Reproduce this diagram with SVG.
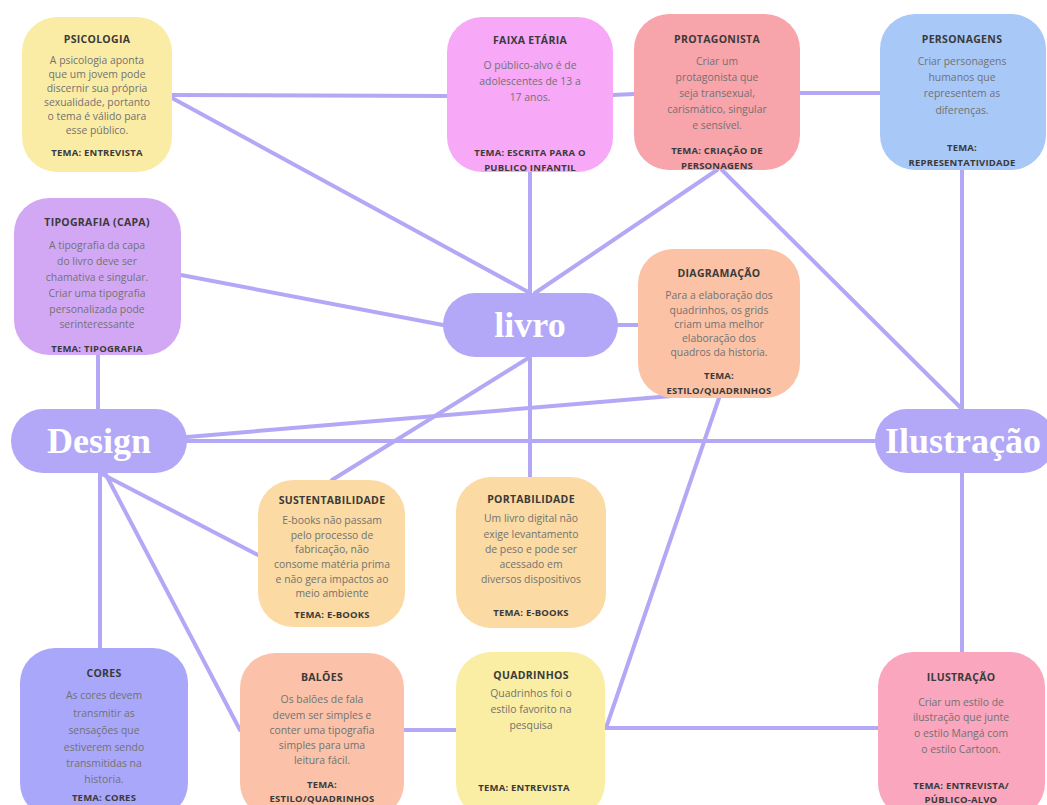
<svg xmlns="http://www.w3.org/2000/svg" width="1047" height="805" viewBox="0 0 1047 805">
<style>
.bg{fill:#ffffff}
.e line{stroke:#b3a8f6;stroke-width:4;stroke-linecap:round}
.t{font-family:"Open Sans","Liberation Sans",sans-serif;font-size:10.5px;font-weight:700;fill:#3a3a3a;text-anchor:middle;letter-spacing:0.3px}
.b{font-family:"Open Sans","Liberation Sans",sans-serif;font-size:10.4px;fill:#727272;text-anchor:middle}
.m{font-family:"Open Sans","Liberation Sans",sans-serif;font-size:9.5px;font-weight:700;fill:#3a3a3a;text-anchor:middle;letter-spacing:0.2px}
.hub{fill:#b2a8f7}
.h{font-family:"Liberation Serif","DejaVu Serif",serif;font-size:36px;font-weight:700;fill:#ffffff;text-anchor:middle}
</style>
<rect class="bg" x="0" y="0" width="1047" height="805"/>
<g id="connectors" class="e">
<line x1="172" y1="95" x2="447" y2="96"/>
<line x1="172" y1="98" x2="530" y2="293"/>
<line x1="530" y1="172" x2="530" y2="293"/>
<line x1="613" y1="95" x2="634" y2="94"/>
<line x1="800" y1="93" x2="880" y2="93"/>
<line x1="717" y1="170" x2="535" y2="293"/>
<line x1="722" y1="170" x2="962" y2="409"/>
<line x1="962" y1="170" x2="962" y2="409"/>
<line x1="181" y1="275" x2="443" y2="325"/>
<line x1="98" y1="355" x2="98" y2="409"/>
<line x1="618" y1="325" x2="638" y2="325"/>
<line x1="187" y1="441" x2="875" y2="441"/>
<line x1="187" y1="437" x2="719" y2="392"/>
<line x1="719" y1="398" x2="606" y2="728"/>
<line x1="606" y1="728" x2="878" y2="728"/>
<line x1="530" y1="357" x2="332" y2="480"/>
<line x1="530" y1="357" x2="530" y2="477"/>
<line x1="100" y1="473" x2="100" y2="648"/>
<line x1="100" y1="473" x2="258" y2="555"/>
<line x1="105" y1="473" x2="240" y2="730"/>
<line x1="404" y1="730" x2="456" y2="730"/>
<line x1="962" y1="473" x2="962" y2="652"/>
</g>
<g id="psicologia">
<rect x="22" y="17" width="150" height="155" rx="35" fill="#faeca5"/>
<text class="t" x="97" y="43">PSICOLOGIA</text>
<text class="b" x="97" y="64">A psicologia aponta</text>
<text class="b" x="97" y="78">que um jovem pode</text>
<text class="b" x="97" y="92">discernir sua própria</text>
<text class="b" x="97" y="106">sexualidade, portanto</text>
<text class="b" x="97" y="120">o tema é válido para</text>
<text class="b" x="97" y="134">esse público.</text>
<text class="m" x="97" y="156">TEMA: ENTREVISTA</text>
</g>
<g id="faixa-etaria">
<rect x="447" y="17" width="166" height="155" rx="35" fill="#f7a8f7"/>
<text class="t" x="530" y="44">FAIXA ETÁRIA</text>
<text class="b" x="530" y="69">O público-alvo é de</text>
<text class="b" x="530" y="85">adolescentes de 13 a</text>
<text class="b" x="530" y="101">17 anos.</text>
<text class="m" x="530" y="156">TEMA: ESCRITA PARA O</text>
<text class="m" x="530" y="171">PUBLICO INFANTIL</text>
</g>
<g id="protagonista">
<rect x="634" y="14" width="166" height="156" rx="35" fill="#f8a4ab"/>
<text class="t" x="717" y="43">PROTAGONISTA</text>
<text class="b" x="717" y="65">Criar um</text>
<text class="b" x="717" y="81">protagonista que</text>
<text class="b" x="717" y="97">seja transexual,</text>
<text class="b" x="717" y="113">carismático, singular</text>
<text class="b" x="717" y="129">e sensível.</text>
<text class="m" x="717" y="154">TEMA: CRIAÇÃO DE</text>
<text class="m" x="717" y="169">PERSONAGENS</text>
</g>
<g id="personagens">
<rect x="880" y="14" width="166" height="156" rx="35" fill="#a8c8f7"/>
<text class="t" x="962" y="43">PERSONAGENS</text>
<text class="b" x="962" y="65">Criar personagens</text>
<text class="b" x="962" y="81">humanos que</text>
<text class="b" x="962" y="97">representem as</text>
<text class="b" x="962" y="114">diferenças.</text>
<text class="m" x="962" y="151">TEMA:</text>
<text class="m" x="962" y="166">REPRESENTATIVIDADE</text>
</g>
<g id="tipografia">
<rect x="14" y="198" width="167" height="157" rx="35" fill="#d2a8f5"/>
<text class="t" x="97" y="226">TIPOGRAFIA (CAPA)</text>
<text class="b" x="97" y="249">A tipografia da capa</text>
<text class="b" x="97" y="265">do livro deve ser</text>
<text class="b" x="97" y="281">chamativa e singular.</text>
<text class="b" x="97" y="297">Criar uma tipografia</text>
<text class="b" x="97" y="313">personalizada pode</text>
<text class="b" x="97" y="328">serinteressante</text>
<text class="m" x="97" y="352">TEMA: TIPOGRAFIA</text>
</g>
<g id="diagramacao">
<rect x="638" y="249" width="162" height="149" rx="35" fill="#fbc2a6"/>
<text class="t" x="719" y="277">DIAGRAMAÇÃO</text>
<text class="b" x="719" y="299">Para a elaboração dos</text>
<text class="b" x="719" y="314">quadrinhos, os grids</text>
<text class="b" x="719" y="328">criam uma melhor</text>
<text class="b" x="719" y="342">elaboração dos</text>
<text class="b" x="719" y="356">quadros da historia.</text>
<text class="m" x="719" y="379">TEMA:</text>
<text class="m" x="719" y="394">ESTILO/QUADRINHOS</text>
</g>
<g id="sustentabilidade">
<rect x="258" y="480" width="147" height="147" rx="35" fill="#fbdaa3"/>
<text class="t" x="332" y="504">SUSTENTABILIDADE</text>
<text class="b" x="332" y="524">E-books não passam</text>
<text class="b" x="332" y="539">pelo processo de</text>
<text class="b" x="332" y="553">fabricação, não</text>
<text class="b" x="332" y="568">consome matéria prima</text>
<text class="b" x="332" y="583">e não gera impactos ao</text>
<text class="b" x="332" y="597">meio ambiente</text>
<text class="m" x="332" y="618">TEMA: E-BOOKS</text>
</g>
<g id="portabilidade">
<rect x="456" y="477" width="150" height="151" rx="35" fill="#fbdaa3"/>
<text class="t" x="531" y="503">PORTABILIDADE</text>
<text class="b" x="531" y="522">Um livro digital não</text>
<text class="b" x="531" y="538">exige levantamento</text>
<text class="b" x="531" y="553">de peso e pode ser</text>
<text class="b" x="531" y="568">acessado em</text>
<text class="b" x="531" y="583">diversos dispositivos</text>
<text class="m" x="531" y="616">TEMA: E-BOOKS</text>
</g>
<g id="cores">
<rect x="20" y="648" width="168" height="170" rx="35" fill="#a9a7f9"/>
<text class="t" x="104" y="677">CORES</text>
<text class="b" x="104" y="699">As cores devem</text>
<text class="b" x="104" y="717">transmitir as</text>
<text class="b" x="104" y="734">sensações que</text>
<text class="b" x="104" y="751">estiverem sendo</text>
<text class="b" x="104" y="767">transmitidas na</text>
<text class="b" x="104" y="783">historia.</text>
<text class="m" x="104" y="801">TEMA: CORES</text>
</g>
<g id="baloes">
<rect x="240" y="653" width="164" height="165" rx="35" fill="#fbc2a9"/>
<text class="t" x="322" y="681">BALÕES</text>
<text class="b" x="322" y="703">Os balões de fala</text>
<text class="b" x="322" y="719">devem ser simples e</text>
<text class="b" x="322" y="734">conter uma tipografia</text>
<text class="b" x="322" y="749">simples para uma</text>
<text class="b" x="322" y="764">leitura fácil.</text>
<text class="m" x="322" y="788">TEMA:</text>
<text class="m" x="322" y="802">ESTILO/QUADRINHOS</text>
</g>
<g id="quadrinhos">
<rect x="456" y="652" width="149" height="166" rx="35" fill="#faeda4"/>
<text class="t" x="531" y="679">QUADRINHOS</text>
<text class="b" x="531" y="697">Quadrinhos foi o</text>
<text class="b" x="531" y="713">estilo favorito na</text>
<text class="b" x="531" y="729">pesquisa</text>
<text class="m" x="524" y="791">TEMA: ENTREVISTA</text>
</g>
<g id="ilustracao-node">
<rect x="878" y="652" width="167" height="166" rx="35" fill="#f9a6be"/>
<text class="t" x="961" y="681">ILUSTRAÇÃO</text>
<text class="b" x="961" y="706">Criar um estilo de</text>
<text class="b" x="961" y="721">ilustração que junte</text>
<text class="b" x="961" y="737">o estilo Mangá com</text>
<text class="b" x="961" y="753">o estilo Cartoon.</text>
<text class="m" x="961" y="789">TEMA: ENTREVISTA/</text>
<text class="m" x="961" y="803">PÚBLICO-ALVO</text>
</g>
<g id="livro">
<rect class="hub" x="443" y="293" width="175" height="64" rx="32"/>
<text class="h" x="530" y="337">livro</text>
</g>
<g id="design">
<rect class="hub" x="11" y="409" width="176" height="64" rx="32"/>
<text class="h" x="99" y="453">Design</text>
</g>
<g id="ilustracao">
<rect class="hub" x="875" y="409" width="180" height="64" rx="32"/>
<text class="h" x="963" y="453">Ilustração</text>
</g>
</svg>
